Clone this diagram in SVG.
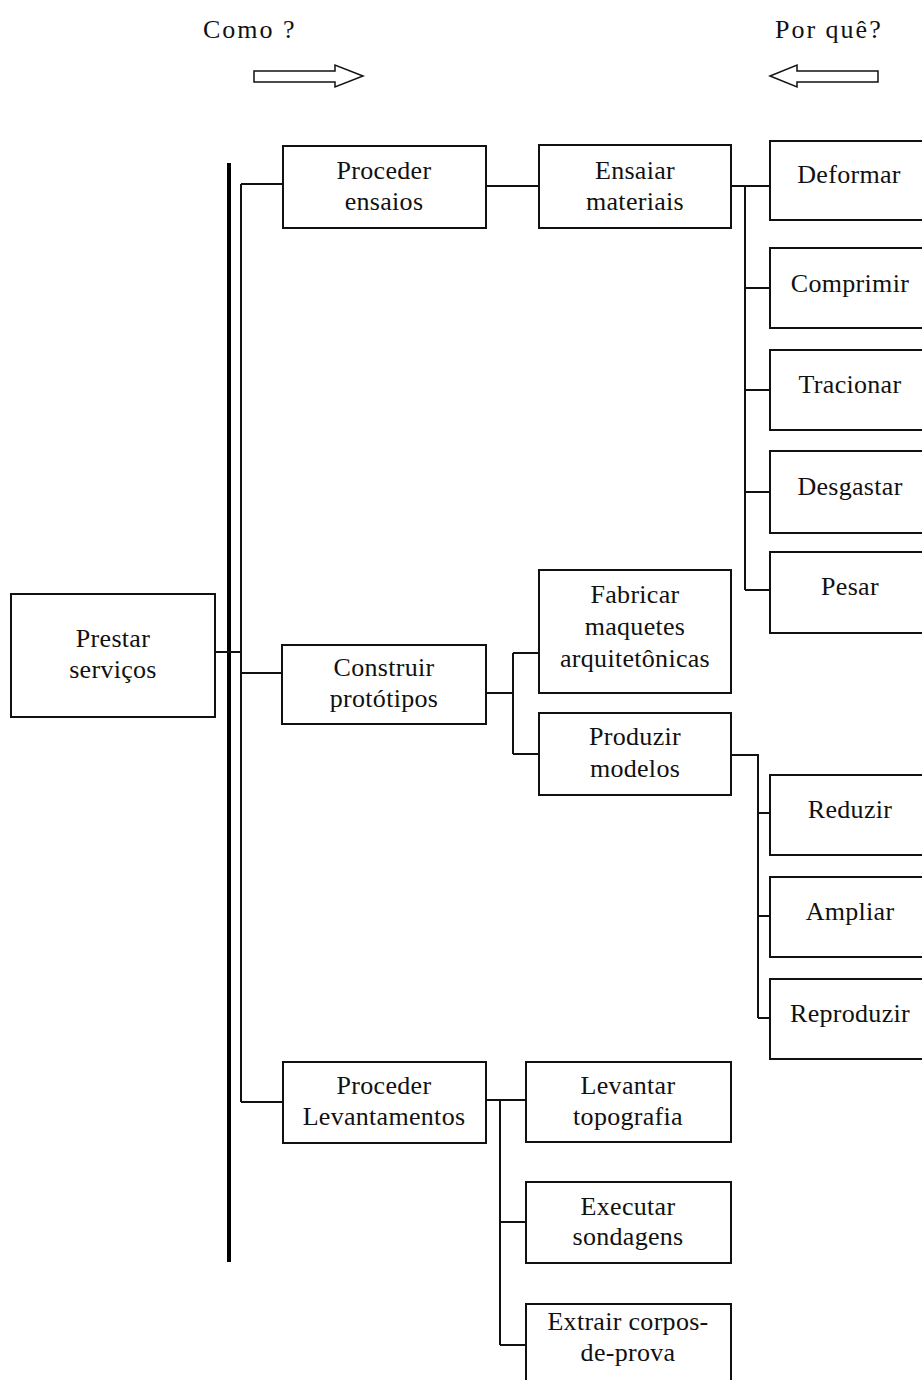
<svg xmlns="http://www.w3.org/2000/svg" width="922" height="1380" viewBox="0 0 922 1380">
  <style>
    .box { fill: #fff; stroke: #111; stroke-width: 2; }
    .lbl { font-family: "Liberation Serif", "Times New Roman", serif; font-size: 26px; fill: #111; text-anchor: middle; letter-spacing: 0.3px; }
    .hdr { font-family: "Liberation Serif", "Times New Roman", serif; font-size: 26px; fill: #111; letter-spacing: 2px; }
    .wire { fill: none; stroke: #111; stroke-width: 2; }
    .spine { fill: none; stroke: #000; stroke-width: 4; }
    .arrow { fill: #fff; stroke: #111; stroke-width: 1.5; }
  </style>
  <rect width="922" height="1380" fill="#fff"/>

  <!-- reading direction headers -->
  <g id="header-como">
    <text class="hdr" x="203" y="38">Como ?</text>
    <polygon class="arrow" points="254,71 335,71 335,65 363,76 335,87 335,82 254,82"/>
  </g>
  <g id="header-porque">
    <text class="hdr" x="775" y="38">Por quê?</text>
    <polygon class="arrow" points="878,71 797,71 797,65 770,76 797,87 797,82 878,82"/>
  </g>

  <!-- connectors -->
  <g id="connectors">
    <line class="spine" x1="229" y1="163" x2="229" y2="1262"/>
    <path class="wire" d="M215,652 H241"/>
    <path class="wire" d="M241,184 V1102"/>
    <path class="wire" d="M241,184 H283"/>
    <path class="wire" d="M241,673 H282"/>
    <path class="wire" d="M241,1102 H283"/>

    <path class="wire" d="M486,186 H539"/>
    <path class="wire" d="M731,186 H770"/>
    <path class="wire" d="M745,186 V590"/>
    <path class="wire" d="M745,288 H770 M745,390 H770 M745,492 H770 M745,590 H770"/>

    <path class="wire" d="M486,693 H513"/>
    <path class="wire" d="M513,653 V754"/>
    <path class="wire" d="M513,653 H539 M513,754 H539"/>

    <path class="wire" d="M731,755 H758 V1018"/>
    <path class="wire" d="M758,813 H770 M758,916 H770 M758,1018 H770"/>

    <path class="wire" d="M486,1100 H526"/>
    <path class="wire" d="M500,1100 V1345"/>
    <path class="wire" d="M500,1222 H526 M500,1345 H526"/>
  </g>

  <!-- root -->
  <g id="node-prestar">
    <rect class="box" x="11" y="594" width="204" height="123"/>
    <text class="lbl" x="113" y="647">Prestar</text>
    <text class="lbl" x="113" y="678">serviços</text>
  </g>

  <!-- level 1 -->
  <g id="node-proceder-ensaios">
    <rect class="box" x="283" y="146" width="203" height="82"/>
    <text class="lbl" x="384" y="179">Proceder</text>
    <text class="lbl" x="384" y="210">ensaios</text>
  </g>
  <g id="node-construir">
    <rect class="box" x="282" y="645" width="204" height="79"/>
    <text class="lbl" x="384" y="676">Construir</text>
    <text class="lbl" x="384" y="707">protótipos</text>
  </g>
  <g id="node-proceder-levantamentos">
    <rect class="box" x="283" y="1062" width="203" height="81"/>
    <text class="lbl" x="384" y="1094">Proceder</text>
    <text class="lbl" x="384" y="1125">Levantamentos</text>
  </g>

  <!-- level 2 -->
  <g id="node-ensaiar">
    <rect class="box" x="539" y="145" width="192" height="83"/>
    <text class="lbl" x="635" y="179">Ensaiar</text>
    <text class="lbl" x="635" y="210">materiais</text>
  </g>
  <g id="node-fabricar">
    <rect class="box" x="539" y="570" width="192" height="123"/>
    <text class="lbl" x="635" y="603">Fabricar</text>
    <text class="lbl" x="635" y="635">maquetes</text>
    <text class="lbl" x="635" y="667">arquitetônicas</text>
  </g>
  <g id="node-produzir">
    <rect class="box" x="539" y="713" width="192" height="82"/>
    <text class="lbl" x="635" y="745">Produzir</text>
    <text class="lbl" x="635" y="777">modelos</text>
  </g>
  <g id="node-levantar">
    <rect class="box" x="526" y="1062" width="205" height="80"/>
    <text class="lbl" x="628" y="1094">Levantar</text>
    <text class="lbl" x="628" y="1125">topografia</text>
  </g>
  <g id="node-executar">
    <rect class="box" x="526" y="1182" width="205" height="81"/>
    <text class="lbl" x="628" y="1215">Executar</text>
    <text class="lbl" x="628" y="1245">sondagens</text>
  </g>
  <g id="node-extrair">
    <rect class="box" x="526" y="1304" width="205" height="90"/>
    <text class="lbl" x="628" y="1330">Extrair corpos-</text>
    <text class="lbl" x="628" y="1361">de-prova</text>
  </g>

  <!-- level 3 -->
  <g id="node-deformar">
    <rect class="box" x="770" y="141" width="170" height="79"/>
    <text class="lbl" x="849" y="183">Deformar</text>
  </g>
  <g id="node-comprimir">
    <rect class="box" x="770" y="248" width="170" height="80"/>
    <text class="lbl" x="850" y="292">Comprimir</text>
  </g>
  <g id="node-tracionar">
    <rect class="box" x="770" y="350" width="170" height="80"/>
    <text class="lbl" x="850" y="393">Tracionar</text>
  </g>
  <g id="node-desgastar">
    <rect class="box" x="770" y="451" width="170" height="82"/>
    <text class="lbl" x="850" y="495">Desgastar</text>
  </g>
  <g id="node-pesar">
    <rect class="box" x="770" y="552" width="170" height="81"/>
    <text class="lbl" x="850" y="595">Pesar</text>
  </g>
  <g id="node-reduzir">
    <rect class="box" x="770" y="775" width="170" height="80"/>
    <text class="lbl" x="850" y="818">Reduzir</text>
  </g>
  <g id="node-ampliar">
    <rect class="box" x="770" y="877" width="170" height="80"/>
    <text class="lbl" x="850" y="920">Ampliar</text>
  </g>
  <g id="node-reproduzir">
    <rect class="box" x="770" y="979" width="170" height="80"/>
    <text class="lbl" x="850" y="1022">Reproduzir</text>
  </g>
</svg>
